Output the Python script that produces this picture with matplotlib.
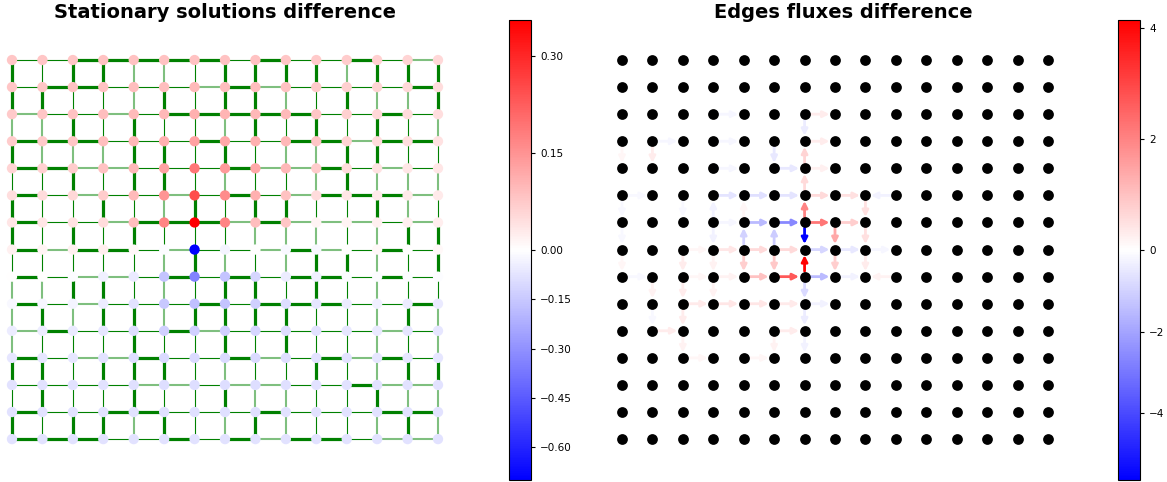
import matplotlib
matplotlib.use('Agg')
import matplotlib.pyplot as plt
from matplotlib.colors import TwoSlopeNorm
from matplotlib.collections import LineCollection
from matplotlib.patches import FancyArrowPatch
from matplotlib.cm import ScalarMappable

N = 15

# difference of the stationary solutions, node (row, col), row 0 = top
node_diff = [
    [0.08, 0.08, 0.08, 0.085, 0.085, 0.085, 0.085, 0.085, 0.085, 0.08, 0.075, 0.07, 0.065, 0.06, 0.055],
    [0.08, 0.08, 0.085, 0.085, 0.09, 0.09, 0.095, 0.09, 0.09, 0.085, 0.075, 0.065, 0.06, 0.055, 0.05],
    [0.075, 0.08, 0.085, 0.09, 0.095, 0.10, 0.11, 0.105, 0.10, 0.095, 0.08, 0.065, 0.055, 0.05, 0.045],
    [0.07, 0.075, 0.08, 0.09, 0.10, 0.11, 0.13, 0.12, 0.11, 0.10, 0.08, 0.06, 0.05, 0.045, 0.04],
    [0.06, 0.065, 0.07, 0.085, 0.10, 0.13, 0.19, 0.14, 0.12, 0.10, 0.07, 0.05, 0.04, 0.035, 0.035],
    [0.045, 0.05, 0.055, 0.07, 0.095, 0.15, 0.25, 0.16, 0.11, 0.085, 0.05, 0.035, 0.03, 0.03, 0.03],
    [0.035, 0.035, 0.04, 0.05, 0.09, 0.17, 0.356, 0.17, 0.09, 0.08, 0.015, 0.015, 0.02, 0.02, 0.025],
    [0.02, 0.015, 0.02, 0.025, 0.01, -0.01, -0.70, -0.03, 0.0, -0.02, -0.02, 0.0, 0.01, 0.0, 0.01],
    [0.0, 0.0, -0.01, -0.04, -0.06, -0.16, -0.34, -0.16, -0.11, -0.05, -0.04, -0.01, -0.01, -0.01, -0.01],
    [-0.02, -0.025, -0.03, -0.05, -0.08, -0.15, -0.17, -0.16, -0.13, -0.09, -0.07, -0.05, -0.04, -0.05, -0.06],
    [-0.05, -0.05, -0.06, -0.07, -0.09, -0.13, -0.13, -0.13, -0.11, -0.09, -0.08, -0.07, -0.06, -0.07, -0.07],
    [-0.07, -0.07, -0.07, -0.08, -0.09, -0.10, -0.10, -0.10, -0.10, -0.09, -0.08, -0.08, -0.07, -0.07, -0.07],
    [-0.08, -0.08, -0.08, -0.08, -0.085, -0.09, -0.09, -0.09, -0.09, -0.085, -0.08, -0.08, -0.08, -0.08, -0.08],
    [-0.08, -0.08, -0.08, -0.08, -0.08, -0.085, -0.085, -0.085, -0.085, -0.08, -0.08, -0.08, -0.08, -0.08, -0.08],
    [-0.08, -0.08, -0.08, -0.08, -0.08, -0.08, -0.08, -0.08, -0.08, -0.08, -0.08, -0.08, -0.08, -0.08, -0.08],
]

# edge weight class (1 thin, 2 light, 3 thick)
# horizontal edges: row r, between col c and c+1
h_weight = [
    [1, 1, 3, 3, 3, 3, 3, 1, 3, 1, 1, 3, 1, 2],
    [1, 3, 3, 1, 1, 1, 2, 3, 2, 1, 1, 1, 1, 3],
    [2, 1, 1, 2, 1, 3, 3, 3, 3, 3, 1, 1, 3, 1],
    [3, 3, 3, 1, 1, 1, 3, 1, 1, 3, 3, 2, 3, 3],
    [3, 3, 2, 2, 1, 1, 1, 3, 2, 2, 3, 1, 2, 1],
    [3, 1, 2, 1, 1, 2, 1, 3, 1, 2, 3, 3, 3, 2],
    [3, 1, 1, 2, 3, 3, 3, 2, 3, 2, 2, 2, 1, 2],
    [3, 2, 3, 3, 1, 2, 1, 1, 2, 3, 2, 1, 3, 1],
    [3, 1, 2, 2, 1, 3, 1, 3, 1, 3, 3, 1, 3, 1],
    [3, 1, 2, 1, 1, 1, 3, 1, 3, 3, 3, 1, 1, 3],
    [2, 3, 1, 1, 1, 3, 2, 1, 1, 1, 1, 1, 2, 1],
    [3, 1, 2, 2, 3, 1, 1, 3, 2, 1, 3, 2, 3, 1],
    [1, 1, 1, 1, 2, 2, 1, 2, 2, 1, 1, 3, 2, 2],
    [3, 1, 1, 3, 3, 1, 1, 1, 3, 1, 1, 1, 3, 3],
    [3, 3, 3, 1, 1, 3, 1, 3, 2, 3, 3, 1, 2, 2],
]
# vertical edges: column c, between row r and r+1
v_weight = [
    [3, 3, 2, 3, 1, 3, 3, 1, 2, 2, 2, 3, 1, 3],
    [1, 3, 2, 2, 1, 1, 1, 1, 2, 3, 1, 3, 3, 1],
    [3, 1, 3, 2, 3, 1, 3, 1, 3, 2, 1, 1, 1, 3],
    [3, 1, 1, 2, 1, 3, 1, 1, 3, 3, 1, 3, 1, 3],
    [2, 2, 3, 3, 3, 1, 3, 1, 1, 3, 3, 3, 3, 2],
    [2, 3, 1, 3, 3, 2, 1, 2, 2, 2, 1, 3, 1, 3],
    [1, 1, 1, 1, 1, 3, 1, 3, 1, 3, 1, 1, 1, 1],
    [3, 3, 2, 3, 2, 1, 1, 2, 3, 3, 3, 2, 3, 2],
    [3, 3, 3, 1, 1, 3, 2, 1, 3, 3, 1, 1, 2, 3],
    [3, 2, 1, 2, 1, 3, 2, 2, 1, 3, 3, 1, 2, 2],
    [3, 1, 3, 2, 2, 1, 2, 3, 3, 1, 1, 3, 1, 1],
    [2, 3, 1, 3, 3, 1, 1, 3, 1, 1, 1, 1, 1, 1],
    [3, 2, 3, 3, 2, 3, 2, 2, 2, 2, 2, 2, 3, 2],
    [3, 2, 1, 1, 2, 2, 3, 1, 1, 3, 1, 3, 2, 3],
    [3, 3, 2, 1, 2, 1, 3, 3, 1, 2, 2, 3, 2, 2],
]

# flux difference on edges: (row_from, col_from, row_to, col_to, value)
flux_edges = [
    (2, 3, 2, 4, -0.2), (2, 6, 2, 7, 0.3),
    (3, 1, 3, 2, -0.2), (3, 3, 3, 4, -0.2), (3, 6, 3, 7, 0.3),
    (4, 3, 4, 4, -0.2), (4, 5, 4, 6, -0.5), (4, 6, 4, 7, 0.25),
    (5, 0, 5, 1, -0.15), (5, 3, 5, 4, -0.6), (5, 4, 5, 5, -0.7), (5, 5, 5, 6, -0.6),
    (5, 6, 5, 7, 0.6), (5, 7, 5, 8, 0.5), (5, 9, 5, 8, -0.3),
    (6, 3, 6, 4, -0.2), (6, 4, 6, 5, -1.5), (6, 5, 6, 6, -2.6), (6, 6, 6, 7, 2.2), (6, 7, 6, 8, 0.8),
    (7, 2, 7, 3, 0.15), (7, 3, 7, 4, 0.4), (7, 4, 7, 5, 0.6), (7, 5, 7, 6, 0.6),
    (7, 6, 7, 7, -0.9), (7, 7, 7, 8, -0.5), (7, 8, 7, 9, -0.2),
    (8, 0, 8, 1, -0.15), (8, 2, 8, 3, 0.15), (8, 3, 8, 4, 0.2), (8, 4, 8, 5, 1.0), (8, 5, 8, 6, 2.7),
    (8, 6, 8, 7, -1.5), (8, 7, 8, 8, -0.3), (8, 9, 8, 8, 0.2),
    (9, 2, 9, 3, 0.35), (9, 3, 9, 4, 0.4), (9, 4, 9, 5, 0.4), (9, 5, 9, 6, 0.35), (9, 6, 9, 7, -0.3),
    (10, 1, 10, 2, 0.3), (10, 5, 10, 6, 0.3),
    (11, 2, 11, 3, 0.15), (11, 4, 11, 5, 0.15),
    (3, 0, 4, 0, 0.15), (5, 0, 6, 0, -0.15), (6, 0, 7, 0, -0.15), (7, 0, 8, 0, 0.15),
    (3, 1, 4, 1, 0.3), (8, 1, 9, 1, 0.2), (9, 1, 10, 1, -0.15),
    (5, 2, 6, 2, -0.15), (7, 2, 8, 2, 0.3), (8, 2, 9, 2, 0.3), (9, 2, 10, 2, 0.3), (10, 2, 11, 2, 0.2),
    (6, 3, 5, 3, -0.3), (6, 3, 7, 3, -0.3), (7, 3, 8, 3, 0.2), (8, 3, 9, 3, 0.2),
    (6, 4, 5, 4, 0.15), (7, 4, 6, 4, -1.0), (7, 4, 8, 4, 0.8),
    (3, 5, 4, 5, -0.5), (7, 5, 6, 5, -1.1), (7, 5, 8, 5, 0.9), (10, 5, 11, 5, 0.2),
    (2, 6, 3, 6, -0.4), (4, 6, 3, 6, 0.7), (5, 6, 4, 6, 0.6), (6, 6, 5, 6, 2.0),
    (6, 6, 7, 6, -5.63), (8, 6, 7, 6, 4.14), (8, 6, 9, 6, -0.8), (9, 6, 10, 6, -0.4), (10, 6, 11, 6, -0.3),
    (6, 7, 7, 7, 1.4), (7, 7, 8, 7, 0.8),
    (5, 8, 6, 8, 0.5), (6, 8, 7, 8, 0.5), (7, 8, 8, 8, 0.3),
]

W, H = 1167, 482
fig = plt.figure(figsize=(W / 100, H / 100), dpi=100)

weight_style = {1: (0.8, 1.0), 2: (1.5, 0.5), 3: (2.3, 1.0)}

# ---- left: stationary solutions ----
ax1 = fig.add_axes([0, 2 / H, 450 / W, 460 / H])
segs, lws, cols = [], [], []
for r in range(N):
    for c in range(N - 1):
        lw, a = weight_style[h_weight[r][c]]
        segs.append([(c, -r), (c + 1, -r)])
        lws.append(lw)
        cols.append((0, 0.5, 0, a))
for c in range(N):
    for r in range(N - 1):
        lw, a = weight_style[v_weight[c][r]]
        segs.append([(c, -r), (c, -r - 1)])
        lws.append(lw)
        cols.append((0, 0.5, 0, a))
ax1.add_collection(LineCollection(segs, linewidths=lws, colors=cols, zorder=1))

norm1 = TwoSlopeNorm(vmin=-0.70, vcenter=0.0, vmax=0.356)
xs = [c for r in range(N) for c in range(N)]
ys = [-r for r in range(N) for c in range(N)]
vals = [node_diff[r][c] for r in range(N) for c in range(N)]
ax1.scatter(xs, ys, c=vals, cmap='bwr', norm=norm1, s=55, linewidths=0, zorder=2)
ax1.set_xlim(-0.394, 14.394)
ax1.set_ylim(-15.51, 1.478)
ax1.axis('off')

cax1 = fig.add_axes([509 / W, 2 / H, 22 / W, 460 / H])
cb1 = fig.colorbar(ScalarMappable(norm=norm1, cmap='bwr'), cax=cax1)
cb1.set_ticks([-0.60, -0.45, -0.30, -0.15, 0.00, 0.15, 0.30])
cb1.ax.tick_params(labelsize=7.5, length=3)

# ---- right: edges fluxes ----
ax2 = fig.add_axes([610 / W, 2 / H, 450 / W, 460 / H])
norm2 = TwoSlopeNorm(vmin=-5.63, vcenter=0.0, vmax=4.14)
cmap = plt.get_cmap('bwr')
for r0, c0, r1, c1, v in flux_edges:
    arr = FancyArrowPatch((c0, -r0), (c1, -r1), arrowstyle='-|>', mutation_scale=9,
                          color=cmap(norm2(v)), lw=2.0, shrinkA=4, shrinkB=4, zorder=1)
    ax2.add_patch(arr)
ax2.scatter(xs, ys, color='black', s=60, linewidths=0, zorder=2)
ax2.set_xlim(-0.394, 14.394)
ax2.set_ylim(-15.51, 1.478)
ax2.axis('off')

cax2 = fig.add_axes([1118 / W, 2 / H, 22 / W, 460 / H])
cb2 = fig.colorbar(ScalarMappable(norm=norm2, cmap='bwr'), cax=cax2)
cb2.set_ticks([-4, -2, 0, 2, 4])
cb2.ax.tick_params(labelsize=7.5, length=3)

fig.text(225 / W, 1 - 12 / H, 'Stationary solutions difference', ha='center', va='center',
         fontsize=14, fontweight='bold')
fig.text(843 / W, 1 - 12 / H, 'Edges fluxes difference', ha='center', va='center',
         fontsize=14, fontweight='bold')

fig.savefig('out.png', dpi=100)
